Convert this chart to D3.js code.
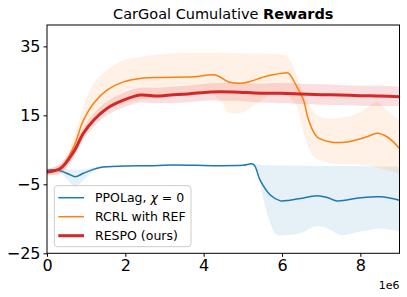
<!DOCTYPE html>
<html>
<head>
<meta charset="utf-8">
<script src="https://cdn.jsdelivr.net/npm/d3@7"></script>
<style>
  body { margin: 0; background: #fff; }
  text { font-family: "DejaVu Sans", sans-serif; }
</style>
</head>
<body>
<div id="chart-area"></div>
<script>
// x values in millions of steps
var xTicks = [0, 2, 4, 6, 8];
var yTicks = [35, 15, -5, -25];

// PPOLag, chi = 0
var ppoX = [0, 0.2, 0.34, 0.55, 0.72, 0.93, 1.15, 1.36, 1.95, 2.6, 3.23, 3.8, 4.42, 5.0, 5.27, 5.44, 5.70, 5.96, 6.2, 6.47, 6.89, 7.15, 7.40, 8.0, 8.51, 9.0];
var ppoMean = [-0.9, -0.8, -1.1, -2.0, -2.8, -1.8, -0.8, -0.1, 0.3, 0.4, 0.6, 0.5, 0.4, 0.5, 0.8, -3.8, -8.1, -9.8, -9.6, -9.1, -8.3, -8.8, -9.8, -8.9, -8.6, -9.6];
var ppoHiX = [0, 0.34, 0.55, 0.72, 0.93, 1.36, 1.95, 3.23, 4.42, 5.27, 5.5, 6.5, 7.5, 8.5, 9.0];
var ppoHi = [-0.6, -0.5, -0.6, -0.8, -0.6, 0.1, 0.4, 0.7, 0.5, 0.9, 0.6, 0.4, 0.3, 0.2, 0.1];
var ppoLoX = [0, 0.34, 0.55, 0.72, 0.93, 1.15, 1.36, 1.95, 3.23, 4.42, 5.27, 5.36, 5.53, 5.70, 5.87, 6.13, 6.47, 6.89, 7.23, 7.49, 8.0, 8.51, 9.0];
var ppoLo = [-1.2, -1.7, -4.0, -5.7, -3.8, -1.6, -0.4, 0.2, 0.5, 0.3, 0.6, -0.9, -9.6, -16.3, -19.7, -19.7, -19.2, -17.1, -18.2, -19.7, -18.7, -17.8, -18.7];

// RCRL with REF
var rcrlX = [0, 0.34, 0.68, 0.93, 1.19, 1.53, 1.95, 2.38, 2.89, 3.74, 4.3, 4.64, 5.02, 5.62, 6.08, 6.17, 6.38, 6.55, 6.68, 6.89, 7.23, 7.66, 8.17, 8.43, 8.68, 9.0];
var rcrlMean = [-1.4, -0.4, 5.9, 13.6, 18.5, 22.3, 24.7, 25.7, 26.0, 26.2, 26.7, 24.7, 24.4, 26.4, 27.3, 27.2, 23.3, 19.4, 13.6, 8.8, 7.3, 7.3, 8.8, 9.8, 8.8, 5.4];
var rcrlHiX = [0, 0.34, 0.68, 0.93, 1.19, 1.53, 1.95, 2.38, 3.15, 4.0, 5.0, 5.7, 6.0, 6.13, 6.3, 6.47, 6.72, 6.98, 7.66, 8.08, 8.43, 8.68, 9.0];
var rcrlHi = [-0.5, 0.8, 8.5, 17.5, 24.3, 28.1, 31.0, 32.0, 33.0, 33.2, 33.0, 32.8, 32.6, 32.0, 29.0, 23.3, 17.5, 14.6, 14.6, 16.5, 18.9, 16.5, 13.6];
var rcrlLoX = [0, 0.34, 0.68, 0.93, 1.19, 1.53, 1.95, 2.38, 3.15, 4.17, 4.47, 4.64, 5.02, 5.36, 5.70, 5.96, 6.2, 6.38, 6.6, 6.81, 7.1, 7.32, 8.17, 9.0];
var rcrlLo = [-2.3, -1.8, 3.0, 9.5, 13.5, 16.5, 18.4, 19.4, 20.4, 21.4, 18.5, 15.8, 16.0, 18.5, 20.9, 21.4, 20.0, 17.5, 8.0, 3.0, 1.5, 1.0, 0.5, -2.0];

// RESPO (ours)
var respoX = [0, 0.34, 0.68, 0.93, 1.19, 1.53, 1.95, 2.38, 2.81, 3.15, 3.6, 4.17, 4.76, 5.44, 5.96, 6.5, 7.0, 7.5, 8.0, 8.5, 9.0];
var respoMean = [-1.4, -0.4, 4.4, 9.8, 13.6, 17.0, 19.4, 20.9, 20.6, 20.9, 21.2, 21.8, 21.8, 21.4, 21.4, 21.2, 21.0, 20.9, 20.7, 20.6, 20.4];
var respoHi = [-0.5, 1.0, 6.0, 11.5, 15.5, 19.0, 21.5, 23.0, 23.0, 23.3, 23.6, 24.3, 24.4, 24.2, 24.4, 24.2, 24.0, 23.8, 23.6, 23.6, 23.4];
var respoLo = [-2.3, -1.8, 2.8, 8.0, 11.6, 15.0, 17.3, 18.7, 18.5, 18.6, 18.8, 19.3, 19.2, 18.7, 18.5, 18.3, 18.1, 18.0, 17.8, 17.7, 17.6];

var width = 407, height = 297;
var plotL = 47, plotR = 399.5, plotT = 25, plotB = 253.3;

var svg = d3.select("#chart-area")
  .append("svg")
  .attr("width", width)
  .attr("height", height);

var x = d3.scaleLinear().domain([0, 9]).range([plotL, plotR]);
var y = d3.scaleLinear().domain([-25, 41.2]).range([plotB, plotT]);

svg.append("defs").append("clipPath")
  .attr("id", "clip")
  .append("rect")
  .attr("x", plotL).attr("y", plotT)
  .attr("width", plotR - plotL).attr("height", plotB - plotT);

var plot = svg.append("g").attr("clip-path", "url(#clip)");

var line = d3.line()
  .x(function(d) { return x(d[0]); })
  .y(function(d) { return y(d[1]); })
  .curve(d3.curveCatmullRom);

function pts(xs, ys) {
  return xs.map(function(v, i) { return [v, ys[i]]; });
}

function band(hiX, hi, loX, lo) {
  var up = line(pts(hiX, hi));
  var down = line(pts(loX, lo).reverse());
  return up + "L" + down.slice(1) + "Z";
}

var series = [
  { color: "#1f77b4", alpha: 0.11, w: 1.5, mx: ppoX, m: ppoMean, hx: ppoHiX, h: ppoHi, lx: ppoLoX, l: ppoLo },
  { color: "#ff7f0e", alpha: 0.11, w: 1.5, mx: rcrlX, m: rcrlMean, hx: rcrlHiX, h: rcrlHi, lx: rcrlLoX, l: rcrlLo },
  { color: "#d62728", alpha: 0.15, w: 3, mx: respoX, m: respoMean, hx: respoX, h: respoHi, lx: respoX, l: respoLo }
];

series.forEach(function(s) {
  plot.append("path")
    .attr("d", band(s.hx, s.h, s.lx, s.l))
    .attr("fill", s.color)
    .attr("fill-opacity", s.alpha)
    .attr("stroke", "none");
});

series.forEach(function(s) {
  plot.append("path")
    .attr("d", line(pts(s.mx, s.m)))
    .attr("fill", "none")
    .attr("stroke", s.color)
    .attr("stroke-width", s.w);
});

// frame
svg.append("rect")
  .attr("x", plotL).attr("y", plotT)
  .attr("width", plotR - plotL).attr("height", plotB - plotT)
  .attr("fill", "none")
  .attr("stroke", "#000")
  .attr("stroke-width", 1);

var xAxis = svg.append("g")
  .attr("transform", "translate(0," + plotB + ")")
  .call(d3.axisBottom(x).tickValues(xTicks).tickSize(3.5).tickPadding(3).tickFormat(d3.format("d")));
var yAxis = svg.append("g")
  .attr("transform", "translate(" + plotL + ",0)")
  .call(d3.axisLeft(y).tickValues(yTicks).tickSize(3.5).tickPadding(3).tickFormat(function(d) { return d < 0 ? "\u2212" + Math.abs(d) : d; }));

[xAxis, yAxis].forEach(function(a) {
  a.select(".domain").remove();
  a.selectAll("text").attr("font-size", 16).attr("fill", "#000").attr("font-family", "DejaVu Sans");
  a.selectAll("line").attr("stroke", "#000");
});

svg.append("text")
  .attr("x", plotR).attr("y", 289)
  .attr("text-anchor", "end")
  .attr("font-size", 11)
  .text("1e6");

var title = svg.append("text")
  .attr("x", (plotL + plotR) / 2).attr("y", 19)
  .attr("text-anchor", "middle")
  .attr("font-size", 14.5);
title.append("tspan").text("CarGoal Cumulative ");
title.append("tspan").attr("font-weight", "bold").text("Rewards");

// legend
var lg = svg.append("g");
lg.append("rect")
  .attr("x", 54.3).attr("y", 185.7)
  .attr("width", 136.7).attr("height", 61)
  .attr("rx", 3)
  .attr("fill", "#fff").attr("fill-opacity", 0.8)
  .attr("stroke", "#ccc").attr("stroke-width", 1);

var labels = ["PPOLag, ", "RCRL with REF", "RESPO (ours)"];
series.forEach(function(s, i) {
  var yy = 197.7 + i * 19;
  lg.append("line")
    .attr("x1", 58.3).attr("x2", 84)
    .attr("y1", yy).attr("y2", yy)
    .attr("stroke", s.color)
    .attr("stroke-width", s.w);
  var t = lg.append("text")
    .attr("x", 95).attr("y", yy + 4.5)
    .attr("font-size", 12.5)
    .text(labels[i]);
  if (i === 0) {
    t.append("tspan").attr("font-style", "italic").text("\u03c7");
    t.append("tspan").text(" = 0");
  }
});
</script>
</body>
</html>
